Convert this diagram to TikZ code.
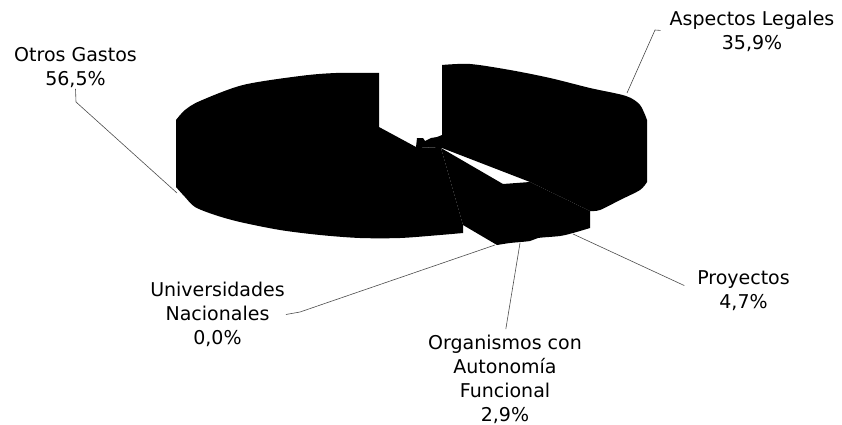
\documentclass[tikz,border=0pt]{standalone}
\usepackage{fontspec}
\setmainfont{DejaVu Sans}

\begin{document}
\begin{tikzpicture}[x=1pt,y=-1pt,
  pie/.style={fill=black},
  leader/.style={draw=black!70,line width=0.6pt},
  lbl/.style={align=center,inner sep=1pt,font=\fontsize{19}{24}\selectfont}]

\useasboundingbox (0,0) rectangle (842,425);

%otros gastos
\path[pie] (379,127) -- (379,73)
  -- plot[smooth] coordinates {(379,73) (336,73) (300,76) (243,85) (200,101) (185,110) (176,120)}
  -- (176,187)
  -- plot[smooth] coordinates {(176,187) (185,197) (195,207) (215,215) (240,222) (280,230) (320,235) (360,238) (400,238) (440,235) (463,233)}
  -- (463,225) -- (441,148) -- (416,147) -- cycle;

%universidades
\path[pie] (416,147) -- (417,138) -- (423,138) -- (425,141) -- (431,138) -- (437,137) -- (442,135) -- (442,148) -- cycle;

%organismos + proyectos
\path[pie] (441,148) -- (503,184) -- (530,182) -- (590,211) -- (590,228)
  -- plot[smooth] coordinates {(590,228) (573,233) (560,236) (538,238) (530,241) (510,243) (497,245)}
  -- (463,225) -- cycle;

%aspectos legales
\path[pie] (442,148) -- (442,65)
  -- plot[smooth] coordinates {(442,65) (470,64) (510,70) (550,78) (590,88) (626,96) (640,105) (647,120)}
  -- (647,182)
  -- plot[smooth] coordinates {(647,182) (640,190) (620,200) (600,210) (590,211)}
  -- (530,182) -- cycle;

%labels
\node[lbl] (otros) at (75.5,67.5) {Otros Gastos\\56,5\%};
\node[lbl] (al) at (752,31) {Aspectos Legales\\35,9\%};
\node[lbl] (pr) at (743.5,291) {Proyectos\\4,7\%};
\node[lbl] (uv) at (217.5,314.5) {Universidades\\Nacionales\\0,0\%};
\node[lbl] (org) at (505,379.5) {Organismos con\\Autonomía\\Funcional\\2,9\%};

%leaders
\coordinate (ogp) at (177,193);
\coordinate (ogk) at (76,102);
\path[leader] (ogp) -- (ogk) -- (otros.south);

\coordinate (alp) at (627,93);
\coordinate (alk) at (655,30);
\path[leader,shorten >=8pt] (alp) -- (alk) -- (al.west);

\coordinate (prp) at (573,234);
\path[leader,shorten >=13pt] (prp) -- (pr.west);

\coordinate (orp) at (520,243);
\path[leader,shorten >=5pt] (orp) -- (org.north);

\coordinate (uvp) at (495,245);
\coordinate (uvk) at (300,312);
\path[leader] (uvp) -- (uvk) -- (uv.east);

\end{tikzpicture}
\end{document}
